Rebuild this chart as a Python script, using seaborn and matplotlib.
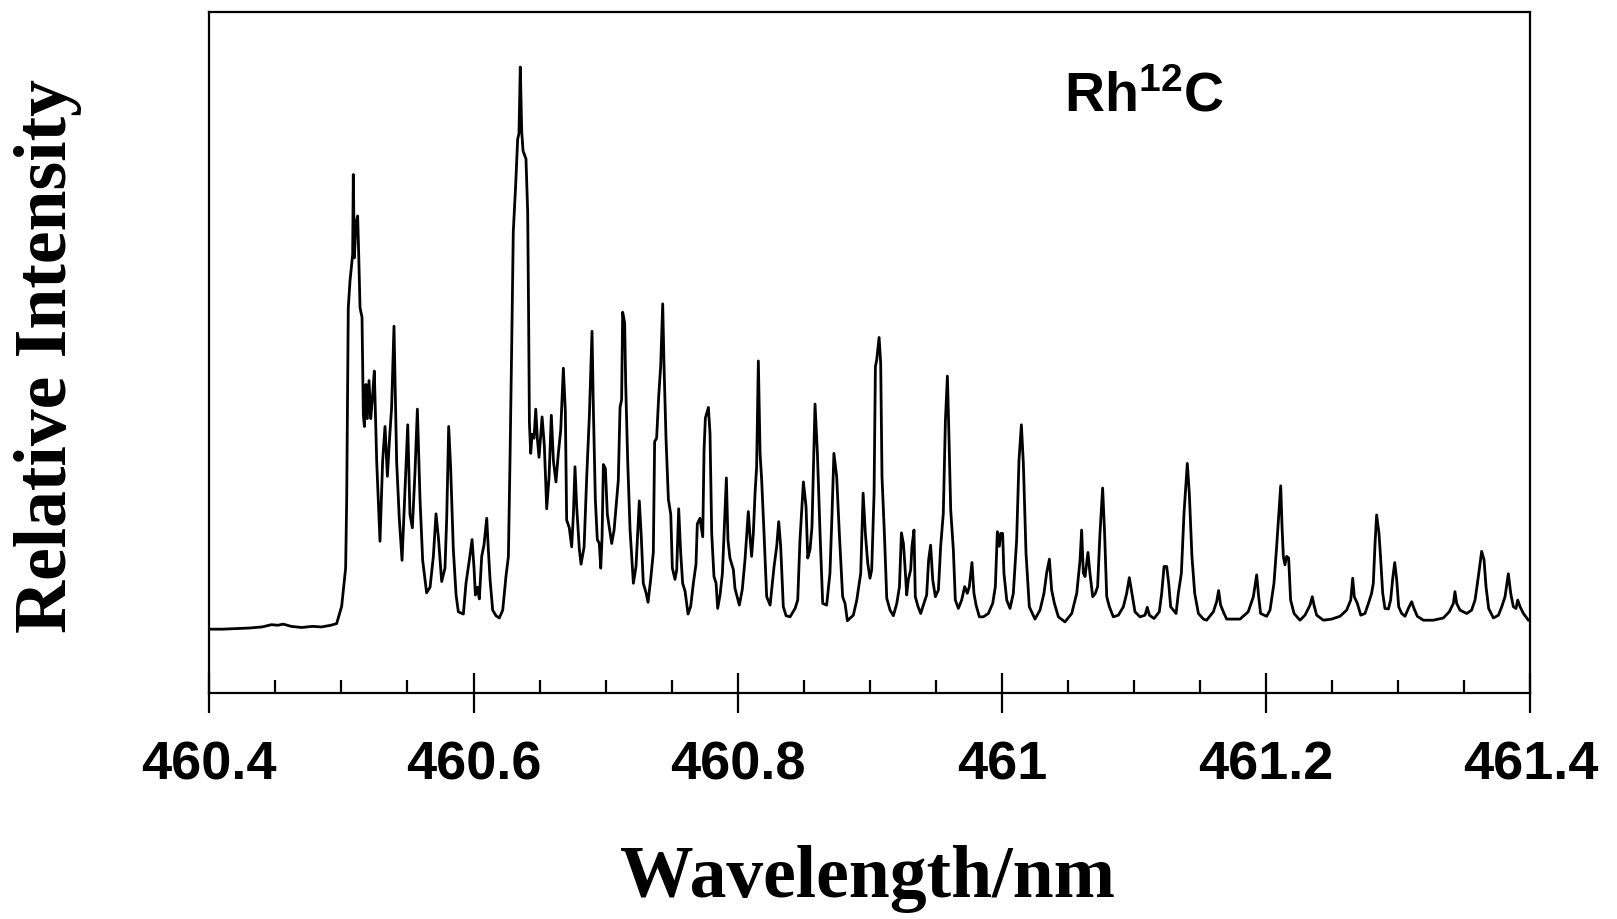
import numpy as np
import pandas as pd
import matplotlib
matplotlib.use("Agg")
import matplotlib.pyplot as plt
import seaborn as sns
from matplotlib.ticker import MultipleLocator

# ---------------- data (wavelength nm, relative intensity %) ----------------
baseline = [(460.400, -0.4), (460.410, -0.4), (460.420, -0.3), (460.430, -0.2), (460.440, 0.0),
            (460.447, 0.4), (460.452, 0.3), (460.456, 0.5), (460.462, 0.1), (460.470, -0.1),
            (460.478, 0.1), (460.485, 0.0), (460.492, 0.3)]

band_1 = [(460.4964, 0.6), (460.5002, 3.7), (460.5020, 7.8), (460.5032, 10.5), (460.5040, 22.8),
          (460.5052, 57.0), (460.5065, 61.8), (460.5085, 66.5), (460.5090, 80.8), (460.5098, 65.9),
          (460.5110, 72.0), (460.5123, 73.4), (460.5131, 66.5), (460.5141, 57.0), (460.5156, 55.3),
          (460.5166, 37.8), (460.5174, 35.8), (460.5186, 43.3), (460.5196, 37.2), (460.5209, 44.0),
          (460.5222, 37.2), (460.5234, 40.6), (460.5249, 45.7), (460.5267, 29.6), (460.5292, 15.3),
          (460.5312, 29.6), (460.5330, 35.8), (460.5348, 26.9), (460.5363, 33.1), (460.5380, 39.2),
          (460.5398, 53.7), (460.5418, 29.6), (460.5438, 19.4), (460.5459, 11.9), (460.5481, 24.2),
          (460.5502, 36.1), (460.5519, 20.1), (460.5537, 17.7), (460.5557, 27.6), (460.5575, 38.9),
          (460.5595, 22.8), (460.5615, 11.9), (460.5645, 6.1), (460.5671, 7.1), (460.5696, 12.6),
          (460.5716, 20.2), (460.5734, 16.0), (460.5759, 8.1), (460.5784, 10.5), (460.5797, 19.4),
          (460.5812, 35.8), (460.5827, 28.3), (460.5847, 13.9), (460.5868, 5.7)]

band_2 = [(460.5885, 2.7), (460.5923, 2.3), (460.5943, 7.8), (460.5968, 11.9), (460.5989, 15.6),
          (460.6004, 10.5), (460.6014, 5.7), (460.6029, 7.1), (460.6044, 5.0), (460.6062, 12.6),
          (460.6079, 14.6), (460.6100, 19.4), (460.6112, 13.9), (460.6125, 8.5), (460.6145, 3.0),
          (460.6170, 2.0), (460.6195, 1.6), (460.6221, 3.0), (460.6246, 9.1), (460.6264, 12.6),
          (460.6276, 29.6), (460.6289, 50.2), (460.6301, 70.6), (460.6319, 78.9), (460.6334, 87.1),
          (460.6344, 88.1), (460.6354, 100.0), (460.6365, 88.4), (460.6375, 85.0), (460.6397, 83.6),
          (460.6410, 74.1), (460.6417, 55.6), (460.6423, 36.5), (460.6433, 31.0), (460.6443, 34.4),
          (460.6458, 33.7), (460.6471, 38.9), (460.6483, 33.7), (460.6496, 30.3), (460.6519, 37.5),
          (460.6536, 32.4), (460.6554, 21.1), (460.6572, 26.9), (460.6589, 37.8), (460.6605, 29.6),
          (460.6624, 25.9), (460.6642, 31.0), (460.6660, 35.1), (460.6680, 46.2), (460.6695, 38.5),
          (460.6705, 19.1), (460.6725, 17.7), (460.6743, 14.3), (460.6756, 20.1), (460.6768, 28.6),
          (460.6781, 21.4), (460.6801, 13.9), (460.6814, 11.2), (460.6837, 14.3), (460.6857, 26.9),
          (460.6877, 37.8), (460.6897, 52.8), (460.6907, 39.2), (460.6922, 22.8), (460.6937, 15.6),
          (460.6952, 14.9), (460.6963, 10.5), (460.6973, 16.0), (460.6983, 29.0), (460.6998, 28.3),
          (460.7013, 20.1), (460.7028, 17.7), (460.7046, 14.9), (460.7064, 17.3), (460.7084, 22.8),
          (460.7096, 26.2), (460.7109, 39.2), (460.7121, 40.6), (460.7129, 56.2), (460.7144, 54.3),
          (460.7152, 43.3), (460.7167, 29.6), (460.7185, 17.3), (460.7210, 7.8), (460.7230, 10.8),
          (460.7240, 15.6), (460.7255, 22.5), (460.7270, 16.0), (460.7285, 7.8), (460.7306, 6.1),
          (460.7321, 4.4), (460.7341, 8.5), (460.7361, 13.3), (460.7371, 33.1), (460.7386, 33.7),
          (460.7402, 41.3), (460.7417, 46.7), (460.7432, 57.7), (460.7442, 46.7), (460.7457, 33.7),
          (460.7475, 22.8), (460.7493, 20.1), (460.7505, 10.5), (460.7525, 8.5), (460.7538, 10.2),
          (460.7553, 21.1), (460.7568, 13.3), (460.7583, 7.8), (460.7601, 6.4), (460.7624, 2.3),
          (460.7644, 3.7), (460.7664, 7.8), (460.7684, 11.2), (460.7694, 18.4), (460.7714, 19.4)]

band_3 = [(460.7735, 16.1), (460.7745, 31.6), (460.7755, 37.3), (460.7778, 39.2), (460.7790, 34.6),
          (460.7803, 16.7), (460.7820, 9.0), (460.7836, 7.8), (460.7848, 3.3), (460.7866, 5.7),
          (460.7884, 9.6), (460.7899, 17.9), (460.7914, 26.6), (460.7926, 15.5), (460.7941, 12.3),
          (460.7967, 10.2), (460.7979, 6.9), (460.8012, 3.9), (460.8034, 6.6), (460.8055, 12.0),
          (460.8080, 20.6), (460.8093, 16.1), (460.8105, 12.6), (460.8118, 16.7), (460.8131, 23.9),
          (460.8143, 28.6), (460.8156, 47.5), (460.8169, 31.0), (460.8181, 26.3), (460.8199, 16.7),
          (460.8219, 5.4), (460.8245, 3.9), (460.8275, 10.8), (460.8295, 14.4), (460.8310, 18.8),
          (460.8325, 14.4), (460.8345, 3.6), (460.8366, 2.0), (460.8396, 1.8), (460.8434, 3.3),
          (460.8454, 4.8), (460.8471, 15.5), (460.8497, 25.9), (460.8517, 21.5), (460.8530, 12.3),
          (460.8547, 13.8), (460.8562, 17.9), (460.8585, 39.8), (460.8603, 31.0), (460.8623, 16.7),
          (460.8643, 4.2), (460.8673, 3.9), (460.8698, 9.6), (460.8713, 19.7), (460.8728, 31.0),
          (460.8749, 26.8), (460.8769, 16.7), (460.8794, 5.4), (460.8812, 4.2), (460.8830, 1.1),
          (460.8875, 2.1), (460.8901, 4.8), (460.8931, 9.6), (460.8949, 23.9), (460.8966, 16.7),
          (460.8984, 11.4), (460.9001, 8.7), (460.9014, 10.2), (460.9032, 23.9), (460.9042, 46.5),
          (460.9052, 47.7), (460.9070, 51.7), (460.9082, 47.1), (460.9092, 26.8), (460.9110, 16.7),
          (460.9128, 5.1), (460.9153, 3.0), (460.9178, 2.0), (460.9204, 4.2), (460.9224, 7.2),
          (460.9239, 16.8), (460.9254, 14.9), (460.9266, 10.8), (460.9279, 5.7), (460.9291, 8.4),
          (460.9309, 10.2), (460.9319, 14.4), (460.9334, 17.3), (460.9344, 5.4), (460.9365, 3.6),
          (460.9385, 2.4), (460.9405, 3.9), (460.9430, 5.7), (460.9445, 12.0), (460.9460, 14.6),
          (460.9476, 8.4), (460.9496, 5.4), (460.9519, 6.6), (460.9536, 14.4), (460.9556, 20.3),
          (460.9572, 36.9), (460.9587, 44.8), (460.9597, 35.8), (460.9612, 20.9), (460.9632, 13.8),
          (460.9647, 4.8), (460.9670, 3.3)]

band_4 = [(460.9695, 4.8), (460.9718, 7.2), (460.9738, 6.0), (460.9753, 7.2), (460.9773, 11.5),
          (460.9788, 6.0), (460.9804, 3.9), (460.9829, 1.8), (460.9859, 1.8), (460.9897, 2.4),
          (460.9930, 4.2), (460.9950, 7.2), (460.9965, 17.0), (460.9980, 14.4), (460.9990, 16.7),
          (461.0005, 16.7), (461.0015, 9.6), (461.0036, 4.8), (461.0061, 3.3), (461.0086, 6.0),
          (461.0111, 15.5), (461.0129, 29.8), (461.0147, 36.1), (461.0162, 29.2), (461.0182, 13.2),
          (461.0207, 3.6), (461.0250, 1.4), (461.0288, 3.0), (461.0318, 6.0), (461.0338, 9.6),
          (461.0359, 12.1), (461.0376, 6.6), (461.0397, 4.2), (461.0427, 1.8), (461.0477, 0.9),
          (461.0528, 2.4), (461.0566, 6.0), (461.0591, 11.9), (461.0603, 17.3), (461.0616, 9.6),
          (461.0629, 9.0), (461.0651, 13.3), (461.0666, 9.6), (461.0687, 5.4), (461.0707, 6.0),
          (461.0724, 7.2), (461.0742, 16.7), (461.0762, 24.8), (461.0777, 16.7), (461.0793, 5.4),
          (461.0813, 3.6), (461.0843, 1.8), (461.0881, 2.1), (461.0919, 3.6), (461.0944, 6.0),
          (461.0964, 8.8), (461.0984, 6.0), (461.1007, 2.7), (461.1045, 1.8), (461.1083, 2.1),
          (461.1100, 3.5), (461.1116, 2.1), (461.1151, 1.5), (461.1191, 2.7), (461.1209, 6.0),
          (461.1227, 10.8), (461.1247, 10.8), (461.1262, 7.8), (461.1277, 3.6), (461.1318, 2.4),
          (461.1335, 6.0), (461.1358, 9.6), (461.1378, 20.3), (461.1403, 29.2), (461.1418, 23.9),
          (461.1438, 12.6), (461.1459, 6.0), (461.1487, 2.4), (461.1525, 1.4)]

band_5 = [(461.1549, 1.2), (461.1600, 2.7), (461.1625, 4.5), (461.1640, 6.5), (461.1655, 3.9),
          (461.1681, 2.4), (461.1701, 1.4), (461.1802, 1.4), (461.1864, 2.7), (461.1903, 5.4),
          (461.1928, 9.3), (461.1943, 5.4), (461.1958, 2.4), (461.2004, 1.9), (461.2029, 3.0),
          (461.2059, 7.8), (461.2079, 14.3), (461.2094, 19.7), (461.2110, 25.2), (461.2120, 17.9),
          (461.2130, 12.6), (461.2142, 11.1), (461.2155, 12.6), (461.2170, 12.3), (461.2185, 4.8),
          (461.2211, 2.4), (461.2256, 1.2), (461.2294, 2.1), (461.2332, 3.9), (461.2349, 5.4),
          (461.2362, 3.9), (461.2382, 2.1), (461.2433, 1.2), (461.2496, 1.4), (461.2559, 1.9),
          (461.2609, 3.0), (461.2640, 4.8), (461.2655, 8.7), (461.2667, 5.4), (461.2690, 4.2),
          (461.2716, 2.1), (461.2748, 2.4), (461.2774, 4.2), (461.2798, 6.0), (461.2811, 7.8),
          (461.2824, 14.9), (461.2836, 20.0), (461.2854, 16.7), (461.2867, 12.0), (461.2882, 6.0),
          (461.2899, 3.3), (461.2925, 3.2), (461.2942, 4.8), (461.2958, 8.7), (461.2973, 11.5),
          (461.2988, 8.4), (461.3003, 3.6), (461.3026, 2.4), (461.3051, 1.9), (461.3076, 3.3),
          (461.3101, 4.5), (461.3119, 3.3), (461.3144, 1.9), (461.3190, 1.2), (461.3265, 1.2),
          (461.3341, 1.6), (461.3386, 2.7), (461.3417, 4.2), (461.3429, 6.3), (461.3442, 4.2),
          (461.3467, 3.0), (461.3492, 2.7), (461.3518, 2.4), (461.3555, 3.0), (461.3581, 4.8),
          (461.3606, 9.0), (461.3631, 13.5), (461.3649, 12.0), (461.3664, 7.2), (461.3684, 3.3),
          (461.3720, 1.6), (461.3758, 2.1), (461.3783, 3.6), (461.3808, 5.4), (461.3833, 9.5),
          (461.3851, 6.0), (461.3871, 3.6), (461.3891, 3.3), (461.3904, 4.8), (461.3922, 3.6),
          (461.3947, 2.4), (461.3985, 1.2), (461.4000, 1.2)]

x_ticks = [460.4, 460.6, 460.8, 461.0, 461.2, 461.4]
x_tick_labels = ["460.4", "460.6", "460.8", "461", "461.2", "461.4"]
x_label = "Wavelength/nm"
y_label = "Relative Intensity"

# ---------------- build frame ----------------
points = baseline + band_1 + band_2 + band_3 + band_4 + band_5
df = pd.DataFrame(points, columns=["wavelength", "intensity"])

sns.set_style("white")
plt.rcParams["text.color"] = "black"
plt.rcParams["xtick.color"] = "black"
plt.rcParams["xtick.labelcolor"] = "black"
plt.rcParams["axes.edgecolor"] = "black"
plt.rcParams["mathtext.fontset"] = "custom"
plt.rcParams["mathtext.bf"] = "Liberation Sans:bold"
plt.rcParams["mathtext.rm"] = "Liberation Sans:bold"
plt.rcParams["mathtext.it"] = "Liberation Sans:bold"

fig = plt.figure(figsize=(16.17, 9.19), dpi=100)
fig.patch.set_facecolor("white")
ax = fig.add_axes([209.3 / 1617, 1 - 693 / 919, 1321.1 / 1617, (693 - 12.4) / 919])

sns.lineplot(data=df, x="wavelength", y="intensity", ax=ax, color="black",
             linewidth=2.0, estimator=None, sort=False)

ax.set_xlim(460.4, 461.4)
ax.set_ylim(-11.8, 109.75)
ax.set_xlabel("")
ax.set_ylabel("")
ax.set_yticks([])

for s in ax.spines.values():
    s.set_visible(True)
    s.set_color("black")
    s.set_linewidth(1.6)

ax.set_xticks(x_ticks)
ax.set_xticklabels(x_tick_labels, fontfamily="Liberation Sans", fontweight="bold",
                   fontsize=39, color="black")
ax.xaxis.set_minor_locator(MultipleLocator(0.05))
ax.tick_params(axis="x", which="major", direction="inout", length=29, width=1.6,
               color="black", pad=20, bottom=True, top=False)
ax.tick_params(axis="x", which="minor", direction="in", length=9.5, width=1.6,
               color="black", bottom=True, top=False)

fig.text(867 / 1617, 1 - 879 / 919, x_label, ha="center", va="center", color="black",
         fontfamily="Liberation Serif", fontweight="bold", fontsize=53)
fig.text(48 / 1617, 1 - 356 / 919, y_label, ha="center", va="center", rotation=90,
         color="black", fontfamily="Liberation Serif", fontweight="bold", fontsize=53)

fig.text(1064 / 1617, 1 - 111 / 919, r"$\mathbf{Rh^{12}C}$", ha="left", va="baseline",
         fontsize=40, color="black")

fig.savefig("out.png", dpi=100, facecolor="white")
